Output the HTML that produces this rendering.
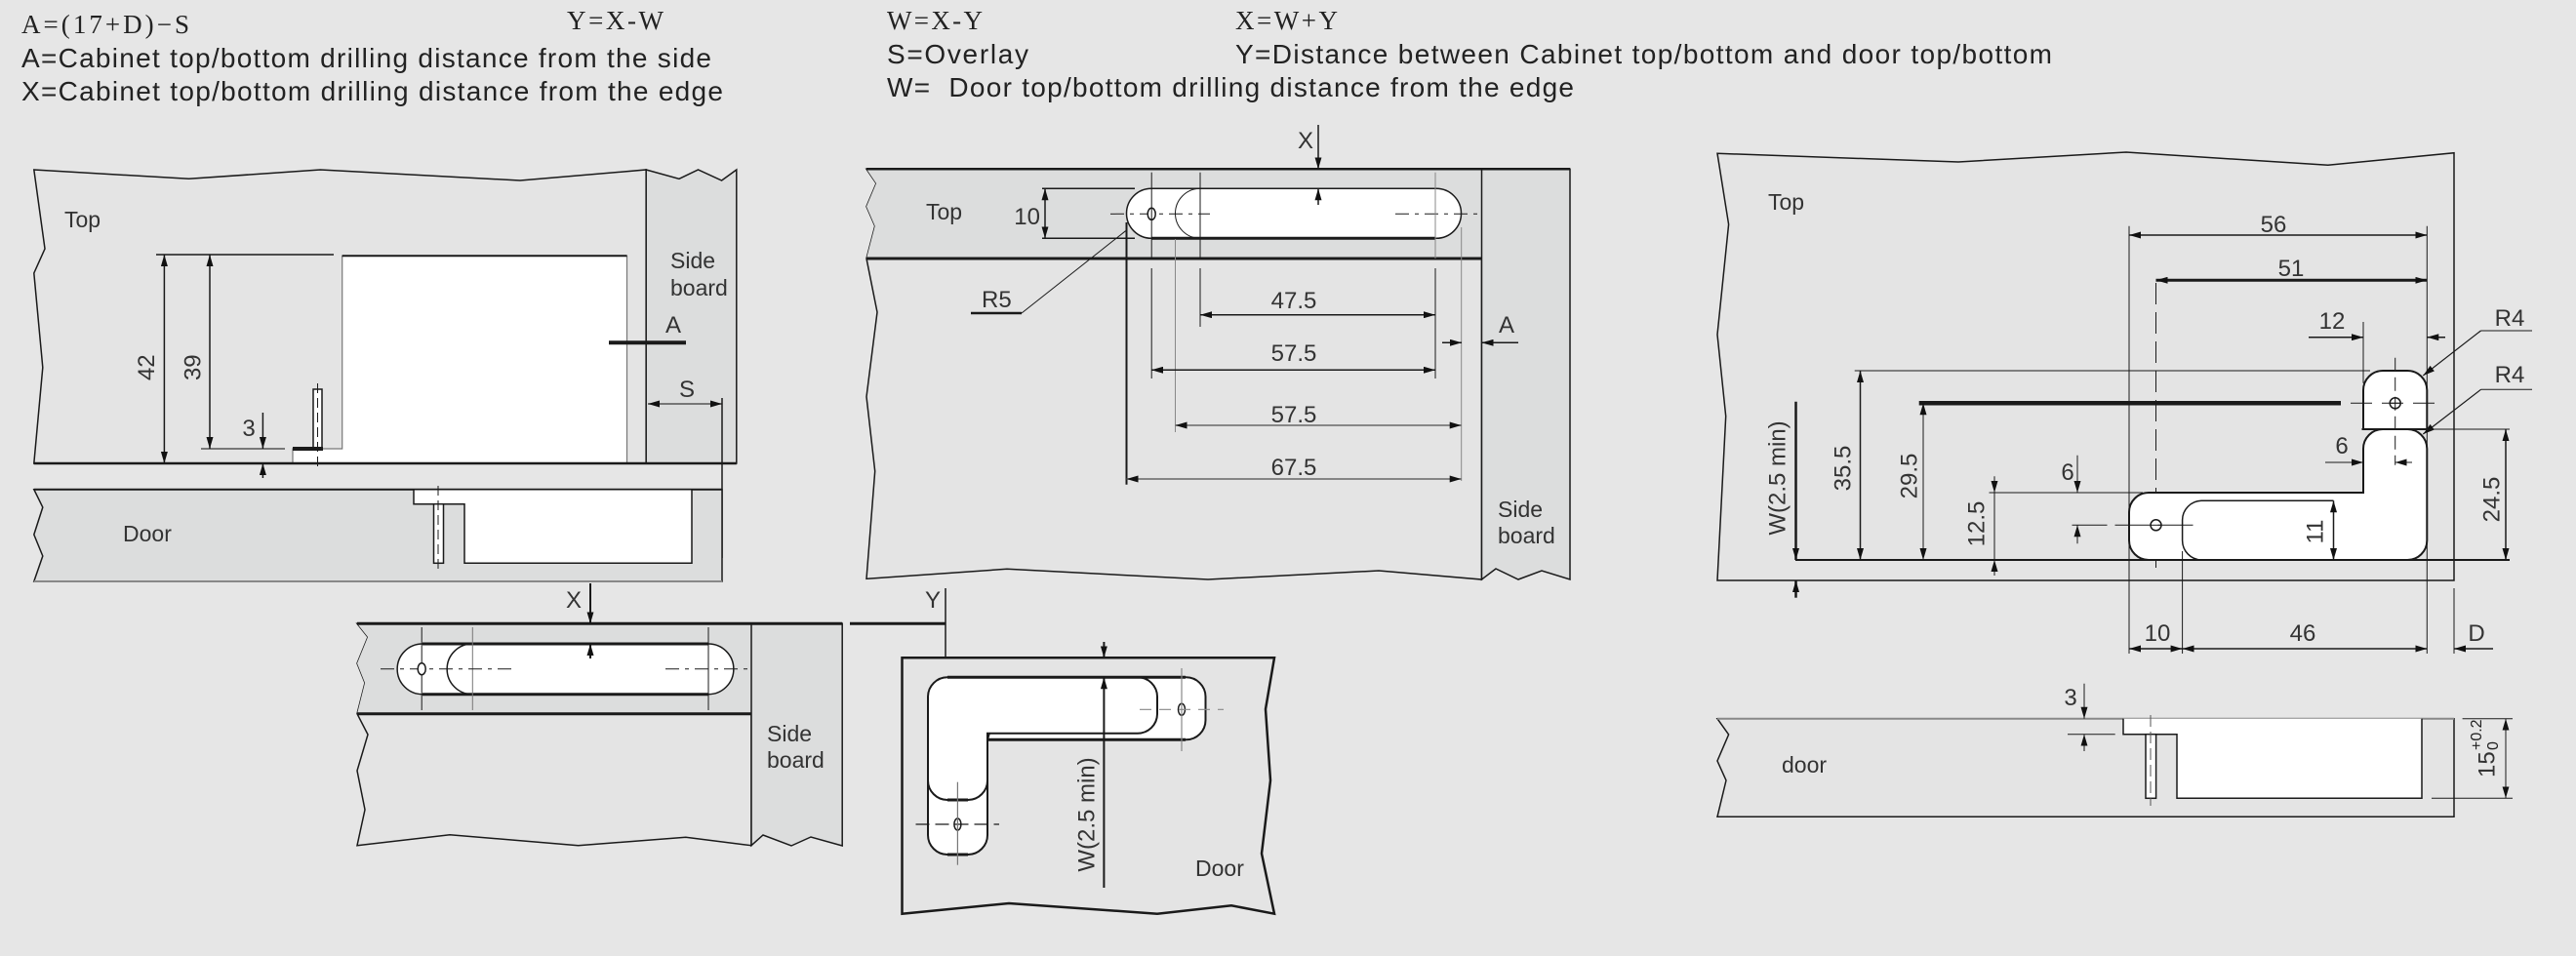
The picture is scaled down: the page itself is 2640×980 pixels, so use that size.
<!DOCTYPE html>
<html><head><meta charset="utf-8"><style>
html,body{margin:0;padding:0;background:#e6e6e6;}
svg{display:block;}
text{font-family:"Liberation Sans",sans-serif;fill:#222;}
.s{font-family:"Liberation Serif",serif;}
.d{font-size:24px;fill:#333;}
.l{font-size:23px;fill:#333;}
</style></head><body>
<svg width="2640" height="980" viewBox="0 0 2640 980" xmlns="http://www.w3.org/2000/svg">
<defs>
<marker id="a" viewBox="0 0 12 7" refX="12" refY="3.5" markerWidth="12" markerHeight="7" markerUnits="userSpaceOnUse" orient="auto-start-reverse"><path d="M0,0 L12,3.5 L0,7 z" fill="#111"/></marker>
</defs>
<rect width="2640" height="980" fill="#e6e6e6"/>

<!-- header -->
<text x="22" y="34" font-size="27" class="s" textLength="172">A=(17+D)−S</text>
<text x="581" y="30" font-size="27" class="s" textLength="99">Y=X-W</text>
<text x="22" y="69" font-size="28" textLength="707">A=Cabinet top/bottom drilling distance from the side</text>
<text x="22" y="103" font-size="28" textLength="719">X=Cabinet top/bottom drilling distance from the edge</text>
<text x="909" y="30" font-size="27" class="s" textLength="98">W=X-Y</text>
<text x="1266" y="30" font-size="27" class="s" textLength="105">X=W+Y</text>
<text x="909" y="65" font-size="28" textLength="145">S=Overlay</text>
<text x="1266" y="65" font-size="28" textLength="837">Y=Distance between Cabinet top/bottom and door top/bottom</text>
<text x="909" y="99" font-size="28" xml:space="preserve" textLength="704">W=  Door top/bottom drilling distance from the edge</text>

<g stroke="#1a1a1a" stroke-width="1.5" fill="none">
<!-- ===== LEFT DIAGRAM ===== -->
<path d="M34.8,174 L193.6,183.3 L328.3,174 L533,185 L662.2,174 L662.2,475 L34.8,475 L43.8,376.7 L34.8,280 L46,255 Z" fill="#e4e4e4"/>
<path d="M662.2,174 L696,183.3 L715.5,174 L739.6,185 L754.8,174 L754.8,475 L662.2,475 Z" fill="#dcdddd"/>
<path d="M350.7,262.3 H642.5 V475 H300 V460 H350.7 Z" fill="#fff" stroke="#777" stroke-width="1.2"/>
<line x1="350.7" y1="262.3" x2="642.5" y2="262.3" stroke-width="2"/>
<line x1="34.8" y1="475" x2="754.8" y2="475" stroke-width="2.5"/>
<line x1="160" y1="261" x2="342" y2="261"/>
<line x1="206" y1="460" x2="292" y2="460" stroke="#555"/>
<line x1="168.4" y1="261" x2="168.4" y2="475" marker-start="url(#a)" marker-end="url(#a)"/>
<line x1="215" y1="261" x2="215" y2="460" marker-start="url(#a)" marker-end="url(#a)"/>
<line x1="269.4" y1="423" x2="269.4" y2="460" marker-end="url(#a)"/>
<line x1="269.4" y1="490" x2="269.4" y2="475" marker-end="url(#a)"/>
<rect x="321" y="399" width="9" height="61" fill="#fff"/>
<line x1="325.5" y1="393" x2="325.5" y2="478" stroke-width="1" stroke-dasharray="10,5"/>
<line x1="300" y1="460" x2="331" y2="460" stroke-width="4"/>
<line x1="624" y1="351.3" x2="703" y2="351.3" stroke-width="4"/>
<line x1="664" y1="414" x2="740" y2="414" stroke="#555" marker-start="url(#a)" marker-end="url(#a)"/>
<line x1="740" y1="408" x2="740" y2="572"/>
<path d="M34.8,501.7 H740 V596 H34.8 L43.8,570 L34.8,548 L43.8,520 Z" fill="#dcdddd"/>
<line x1="34.8" y1="501.7" x2="740" y2="501.7" stroke-width="2"/>
<line x1="34.8" y1="596" x2="740" y2="596" stroke="#888" stroke-width="2"/>
<path d="M424,501.7 V516.7 H476 V577.3 H709 V501.7 Z" fill="#fff" stroke-width="1.5"/>
<rect x="444.5" y="516.7" width="10" height="60.6" fill="#fff"/>
<line x1="449" y1="498" x2="449" y2="585" stroke-width="1" stroke-dasharray="10,5"/>

<!-- ===== MIDDLE TOP ===== -->
<path d="M888,173.3 H1518.5 V594 L1413,585 L1238,594 L1032,583.3 L888,593.3 L896.7,483 L888,406.7 L899,320 L888,265 L896.7,231.7 L888,211.7 L898,188 Z" fill="#e4e4e4"/>
<path d="M888,173.3 H1518.5 V265 H888 L896.7,231.7 L888,211.7 L898,188 Z" fill="#dcdddd" stroke="none"/>
<path d="M1518.5,173.3 H1609 V594 L1580,585 L1556,594 L1533,583 L1518.5,594 Z" fill="#dcdddd"/>
<line x1="888" y1="173.3" x2="1609" y2="173.3" stroke-width="2.5"/>
<line x1="888" y1="265" x2="1518.5" y2="265" stroke-width="3"/>
<path d="M1180,193.3 H1472 A25.5 25.5 0 0 1 1472,244.3 H1180 A25.5 25.5 0 0 1 1180,193.3 Z" fill="#fff"/>
<path d="M1230,193.3 A25.5 25.5 0 0 0 1230,244.3" stroke-width="1"/>
<line x1="1180" y1="244.3" x2="1471" y2="244.3" stroke-width="3"/>
<line x1="1138" y1="219.3" x2="1240" y2="219.3" stroke-width="1" stroke-dasharray="14,6,4,6"/>
<line x1="1430" y1="219.3" x2="1516" y2="219.3" stroke-width="1" stroke-dasharray="14,6,4,6"/>
<ellipse cx="1180.2" cy="219.3" rx="4" ry="6" fill="#fff"/>
<g stroke-width="1">
<line x1="1180.2" y1="176.7" x2="1180.2" y2="265"/><line x1="1230" y1="176.7" x2="1230" y2="265"/><line x1="1471" y1="176.7" x2="1471" y2="265" stroke="#888"/>
<line x1="1180.2" y1="275" x2="1180.2" y2="388"/><line x1="1230" y1="275" x2="1230" y2="335"/><line x1="1471" y1="275" x2="1471" y2="388"/>
</g>
<line x1="1154.5" y1="228" x2="1154.5" y2="496.7" stroke-width="2"/>
<line x1="1204.5" y1="245" x2="1204.5" y2="443" stroke="#888" stroke-width="1"/>
<line x1="1497.7" y1="233" x2="1497.7" y2="493" stroke="#888" stroke-width="1"/>
<line x1="1068" y1="193.3" x2="1163" y2="193.3"/><line x1="1068" y1="244.3" x2="1163" y2="244.3"/>
<line x1="1071" y1="193.3" x2="1071" y2="244.3" marker-start="url(#a)" marker-end="url(#a)"/>
<line x1="1351" y1="128" x2="1351" y2="173.3" marker-end="url(#a)"/>
<line x1="1351" y1="210" x2="1351" y2="193.3" marker-end="url(#a)"/>
<line x1="1047" y1="321" x2="1153.6" y2="236.7" stroke-width="1"/>
<line x1="995" y1="321" x2="1047" y2="321" stroke-width="2.5"/>
<line x1="1230" y1="322.7" x2="1471" y2="322.7" marker-start="url(#a)" marker-end="url(#a)"/>
<line x1="1180" y1="379.3" x2="1471" y2="379.3" marker-start="url(#a)" marker-end="url(#a)"/>
<line x1="1204.5" y1="436" x2="1497.7" y2="436" stroke="#666" marker-start="url(#a)" marker-end="url(#a)"/>
<line x1="1154.5" y1="491" x2="1497.7" y2="491" stroke="#666" marker-start="url(#a)" marker-end="url(#a)"/>
<line x1="1478" y1="351.3" x2="1498" y2="351.3" marker-end="url(#a)"/>
<line x1="1556" y1="351.3" x2="1518.5" y2="351.3" marker-end="url(#a)"/>

<!-- ===== BOTTOM LEFT (X) ===== -->
<path d="M366,639.3 H770 V866.7 L702.8,858.3 L592.6,866.7 L461,855.7 L366,866.7 L374,830 L366,790 L377,753 L366,731.7 L374,700 L366,680 L377,653 Z" fill="#e4e4e4"/>
<path d="M366,639.3 H770 V731.7 H366 L374,700 L366,680 L377,653 Z" fill="#dcdddd" stroke="none"/>
<path d="M770,639.3 H863.2 V867 L831,858 L811,867 L782,856 L770,866.7 Z" fill="#dcdddd"/>
<line x1="366" y1="639.3" x2="863.2" y2="639.3" stroke-width="3"/>
<line x1="366" y1="731.7" x2="770" y2="731.7" stroke-width="3"/>
<path d="M433,660 H726 A25.8 25.8 0 0 1 726,711.7 H433 A25.8 25.8 0 0 1 433,660 Z" fill="#fff"/>
<path d="M484,660 A25.8 25.8 0 0 0 484,711.7" stroke-width="1.5"/>
<line x1="433" y1="660" x2="726" y2="660" stroke-width="3"/>
<line x1="433" y1="711.7" x2="726" y2="711.7" stroke-width="3"/>
<g stroke-width="1"><line x1="432.2" y1="643" x2="432.2" y2="728"/><line x1="484.3" y1="643" x2="484.3" y2="728" stroke="#777"/><line x1="726" y1="643" x2="726" y2="728"/></g>
<line x1="390" y1="685.7" x2="528" y2="685.7" stroke-width="1" stroke-dasharray="14,6,4,6"/>
<line x1="682" y1="685.7" x2="770" y2="685.7" stroke-width="1" stroke-dasharray="14,6,4,6"/>
<ellipse cx="432.2" cy="685.7" rx="4" ry="6" fill="#fff"/>
<line x1="605" y1="598" x2="605" y2="639.3" stroke-width="2" marker-end="url(#a)"/>
<line x1="605" y1="675" x2="605" y2="660" stroke-width="2" marker-end="url(#a)"/>

<!-- ===== BOTTOM MID (Y) ===== -->
<line x1="871" y1="639.3" x2="969" y2="639.3" stroke-width="3"/>
<line x1="969" y1="603" x2="969" y2="690" stroke-width="1.5" marker-end="url(#a)"/>
<path d="M924.5,674.3 H1306 L1297,727 L1302,800 L1293,875 L1306,936.7 L1262,928.3 L1186,936.7 L1034,926 L924.5,936.7 Z" fill="#e4e4e4" stroke-width="2.5"/>
<path d="M1030,694.3 H1215.5 A20 20 0 0 1 1235.5,714 V738.3 A20 20 0 0 1 1215.5,758.3 H1012 Z" fill="#fff" stroke-width="2"/>
<path d="M951,800 V856 A20 20 0 0 0 971,876 H992 A20 20 0 0 0 1012,856 V800" fill="#fff" stroke-width="2"/>
<path d="M971,694.3 H1166 A20 20 0 0 1 1186,714 V732 A20 20 0 0 1 1166,751.7 H1012 V800 A20 20 0 0 1 992,820 H971 A20 20 0 0 1 951,800 V714 A20 20 0 0 1 971,694.3 Z" fill="#fff" stroke-width="2"/>
<line x1="971" y1="694.3" x2="1215" y2="694.3" stroke-width="3"/>
<line x1="1012" y1="758.3" x2="1215" y2="758.3" stroke-width="3"/>
<line x1="971" y1="876" x2="992" y2="876" stroke-width="3"/>
<line x1="971" y1="820" x2="992" y2="820" stroke-width="3"/>
<ellipse cx="1211" cy="727.3" rx="3.5" ry="6" fill="#fff"/>
<ellipse cx="981.4" cy="845" rx="3.5" ry="6" fill="#fff"/>
<g stroke="#888" stroke-width="1.2"><line x1="1168" y1="727.3" x2="1254" y2="727.3" stroke-dasharray="12,8"/><line x1="1211" y1="685" x2="1211" y2="770"/></g>
<g stroke-width="1.2"><line x1="938.5" y1="845" x2="1024" y2="845" stroke-dasharray="14,6"/><line x1="981.4" y1="801.7" x2="981.4" y2="886.7" stroke="#777"/></g>
<line x1="1131.4" y1="658" x2="1131.4" y2="674.3" stroke-width="2" marker-end="url(#a)"/>
<line x1="1131.4" y1="910" x2="1131.4" y2="694.3" stroke-width="2" marker-end="url(#a)"/>

<!-- ===== RIGHT TOP ===== -->
<path d="M1760,157.3 L2007,166 L2179,156 L2385.8,169.3 L2515,156.7 V595 H1760 L1768.7,426.7 L1760,343 L1771.6,230 Z" fill="#e4e4e4"/>
<line x1="2182" y1="231.7" x2="2182" y2="670" stroke-width="1"/>
<line x1="2487.3" y1="231.7" x2="2487.3" y2="670" stroke-width="1"/>
<line x1="2182" y1="241" x2="2487.3" y2="241" marker-start="url(#a)" marker-end="url(#a)"/>
<line x1="2209.5" y1="287.3" x2="2487.3" y2="287.3" stroke-width="3" marker-start="url(#a)" marker-end="url(#a)"/>
<line x1="2209.5" y1="290" x2="2209.5" y2="583" stroke-width="1" stroke-dasharray="22,8"/>
<line x1="2422" y1="330" x2="2422" y2="392.7" stroke-width="1"/>
<line x1="2366" y1="345.7" x2="2422" y2="345.7" marker-end="url(#a)"/>
<line x1="2506" y1="345.7" x2="2487.3" y2="345.7" marker-end="url(#a)"/>
<line x1="2542.5" y1="339" x2="2483.3" y2="385" stroke-width="1.2" marker-end="url(#a)"/>
<line x1="2542.5" y1="339" x2="2595" y2="339" stroke-width="1"/>
<line x1="2542.5" y1="399.3" x2="2483.3" y2="445" stroke-width="1.2" marker-end="url(#a)"/>
<line x1="2542.5" y1="399.3" x2="2595" y2="399.3" stroke-width="1"/>
<line x1="1900.7" y1="380" x2="2429" y2="380" stroke-width="1"/>
<line x1="1966.7" y1="413.3" x2="2399" y2="413.3" stroke-width="4.5"/>
<path d="M2422,440 V400 A20 20 0 0 1 2442,380 H2467 A20 20 0 0 1 2487.3,400 V440 Z" fill="#fff" stroke-width="2"/>
<path d="M2202,505 H2422 V460 A20 20 0 0 1 2442,440 H2467 A20 20 0 0 1 2487.3,460 V554 A20 20 0 0 1 2467,574 H2202 A20 20 0 0 1 2182,554 V525 A20 20 0 0 1 2202,505 Z" fill="#fff" stroke-width="2"/>
<path d="M2391.5,513.3 H2256 A20 20 0 0 0 2236.6,533 V554 A20 20 0 0 0 2256,574" stroke-width="1.5"/>
<line x1="2420" y1="440" x2="2572" y2="440" stroke-width="1"/>
<circle cx="2454.7" cy="413.3" r="5.5" fill="#fff"/><line x1="2449" y1="413.3" x2="2460" y2="413.3" stroke-width="1"/>
<circle cx="2209.5" cy="538.3" r="5.5" fill="#fff"/><line x1="2204" y1="538.3" x2="2215" y2="538.3" stroke-width="1"/>
<line x1="2454.7" y1="366.7" x2="2454.7" y2="476.7" stroke-width="1" stroke-dasharray="14,6"/>
<line x1="2409" y1="413.3" x2="2500" y2="413.3" stroke-width="1" stroke-dasharray="22,10"/>
<line x1="2123.5" y1="538.3" x2="2255.5" y2="538.3" stroke-width="1" stroke-dasharray="36,8"/>
<line x1="1840" y1="574" x2="2572" y2="574" stroke-width="2"/>
<line x1="1906.5" y1="380" x2="1906.5" y2="574" marker-start="url(#a)" marker-end="url(#a)"/>
<line x1="1971" y1="413.3" x2="1971" y2="574" stroke-width="1" marker-start="url(#a)" marker-end="url(#a)"/>
<line x1="2038.5" y1="505" x2="2196" y2="505" stroke-width="1"/>
<line x1="2044" y1="488.3" x2="2044" y2="505" stroke-width="1" marker-end="url(#a)"/>
<line x1="2044" y1="590" x2="2044" y2="574" stroke-width="1" marker-end="url(#a)"/>
<line x1="2044" y1="505" x2="2044" y2="574" stroke-width="1"/>
<line x1="2129" y1="466.7" x2="2129" y2="505" stroke-width="1" marker-end="url(#a)"/>
<line x1="2129" y1="557.3" x2="2129" y2="538.3" stroke-width="1" marker-end="url(#a)"/>
<line x1="2383" y1="474" x2="2422" y2="474" stroke-width="1" marker-end="url(#a)"/>
<line x1="2472" y1="474" x2="2454.7" y2="474" stroke-width="1" marker-end="url(#a)"/>
<line x1="2391.5" y1="513.3" x2="2391.5" y2="574" marker-start="url(#a)" marker-end="url(#a)"/>
<line x1="2568" y1="440" x2="2568" y2="574" marker-start="url(#a)" marker-end="url(#a)"/>
<line x1="1840.5" y1="411.7" x2="1840.5" y2="574" stroke-width="2.5" marker-end="url(#a)"/>
<line x1="1840.5" y1="612.7" x2="1840.5" y2="595" stroke-width="2.5" marker-end="url(#a)"/>
<line x1="2236.6" y1="565" x2="2236.6" y2="670" stroke-width="1"/>
<line x1="2515" y1="603" x2="2515" y2="670" stroke-width="1"/>
<line x1="2182" y1="665" x2="2236.6" y2="665" marker-start="url(#a)" marker-end="url(#a)"/>
<line x1="2236.6" y1="665" x2="2487.3" y2="665" marker-start="url(#a)" marker-end="url(#a)"/>
<line x1="2555" y1="665" x2="2515" y2="665" marker-end="url(#a)"/>

<!-- ===== RIGHT DOOR ===== -->
<path d="M1760,736.7 H2515 V837.3 H1760 L1769,800 L1760,780 L1771.6,753 Z" fill="#e4e4e4"/>
<line x1="1760" y1="736.7" x2="2515" y2="736.7" stroke="#888" stroke-width="2"/>
<path d="M2176,736.7 V752.7 H2231 V818.3 H2482 V736.7" fill="#fff" stroke-width="1.5"/>
<rect x="2199" y="752.7" width="10.6" height="65.6" fill="#fff"/>
<line x1="2204" y1="733" x2="2204" y2="826" stroke-width="1" stroke="#555" stroke-dasharray="12,5"/>
<line x1="2119" y1="752.7" x2="2167.7" y2="752.7" stroke-width="1"/>
<line x1="2136" y1="700.7" x2="2136" y2="736.7" stroke-width="1" marker-end="url(#a)"/>
<line x1="2136" y1="770" x2="2136" y2="752.7" stroke-width="1" marker-end="url(#a)"/>
<line x1="2523.6" y1="736.7" x2="2575" y2="736.7" stroke-width="1"/>
<line x1="2492" y1="818.3" x2="2575" y2="818.3" stroke-width="1"/>
<line x1="2568" y1="736.7" x2="2568" y2="818.3" stroke-width="1" marker-start="url(#a)" marker-end="url(#a)"/>
</g>

<!-- labels -->
<g class="l">
<text x="66" y="233" class="l">Top</text>
<text x="687" y="275" class="l">Side</text><text x="687" y="303" class="l">board</text>
<text x="126" y="555" class="l">Door</text>
<text x="949" y="225" class="l">Top</text>
<text x="1535" y="530" class="l">Side</text><text x="1535" y="557" class="l">board</text>
<text x="786" y="760" class="l">Side</text><text x="786" y="787" class="l">board</text>
<text x="1225" y="898" class="l">Door</text>
<text x="1812" y="215" class="l">Top</text>
<text x="1826" y="792" class="l">door</text>
</g>
<g class="d">
<text x="151.5" y="376.7" class="d" text-anchor="middle" dominant-baseline="middle" transform="rotate(-90 151.5 376.7)">42</text>
<text x="199" y="376.7" class="d" text-anchor="middle" dominant-baseline="middle" transform="rotate(-90 199 376.7)">39</text>
<text x="255" y="447" class="d" text-anchor="middle">3</text>
<text x="690" y="341" class="d" text-anchor="middle">A</text>
<text x="704" y="407" class="d" text-anchor="middle">S</text>
<text x="1066" y="230" class="d" text-anchor="end">10</text>
<text x="1338" y="152" class="d" text-anchor="middle">X</text>
<text x="1006" y="315" class="d">R5</text>
<text x="1326" y="316" class="d" text-anchor="middle">47.5</text>
<text x="1326" y="370" class="d" text-anchor="middle">57.5</text>
<text x="1326" y="433" class="d" text-anchor="middle">57.5</text>
<text x="1326" y="487" class="d" text-anchor="middle">67.5</text>
<text x="1544" y="341" class="d" text-anchor="middle">A</text>
<text x="588" y="623" class="d" text-anchor="middle">X</text>
<text x="956" y="623" class="d" text-anchor="middle">Y</text>
<text x="1115" y="835" class="d" text-anchor="middle" dominant-baseline="middle" transform="rotate(-90 1115 835)">W(2.5 min)</text>
<text x="2330" y="238" class="d" text-anchor="middle">56</text>
<text x="2348" y="283" class="d" text-anchor="middle">51</text>
<text x="2390" y="337" class="d" text-anchor="middle">12</text>
<text x="2572" y="334" class="d" text-anchor="middle">R4</text>
<text x="2572" y="392" class="d" text-anchor="middle">R4</text>
<text x="1890" y="480" class="d" text-anchor="middle" dominant-baseline="middle" transform="rotate(-90 1890 480)">35.5</text>
<text x="1958" y="488" class="d" text-anchor="middle" dominant-baseline="middle" transform="rotate(-90 1958 488)">29.5</text>
<text x="2027" y="537" class="d" text-anchor="middle" dominant-baseline="middle" transform="rotate(-90 2027 537)">12.5</text>
<text x="2119" y="492" class="d" text-anchor="middle">6</text>
<text x="2400" y="465" class="d" text-anchor="middle">6</text>
<text x="2374" y="545" class="d" text-anchor="middle" dominant-baseline="middle" transform="rotate(-90 2374 545)">11</text>
<text x="2555" y="512" class="d" text-anchor="middle" dominant-baseline="middle" transform="rotate(-90 2555 512)">24.5</text>
<text x="1823" y="490" font-size="26" class="d" text-anchor="middle" dominant-baseline="middle" transform="rotate(-90 1823 490)">W(2.5 min)</text>
<text x="2211" y="657" class="d" text-anchor="middle">10</text>
<text x="2360" y="657" class="d" text-anchor="middle">46</text>
<text x="2538" y="657" class="d" text-anchor="middle">D</text>
<text x="2122" y="723" class="d" text-anchor="middle">3</text>
<g transform="rotate(-90 2550 777)"><text x="2530" y="777" class="d" dominant-baseline="middle">15</text><text x="2558" y="770" font-size="16" fill="#333">+0.2</text><text x="2558" y="787" font-size="16" fill="#333">0</text></g>
</g>
</svg>
</body></html>
